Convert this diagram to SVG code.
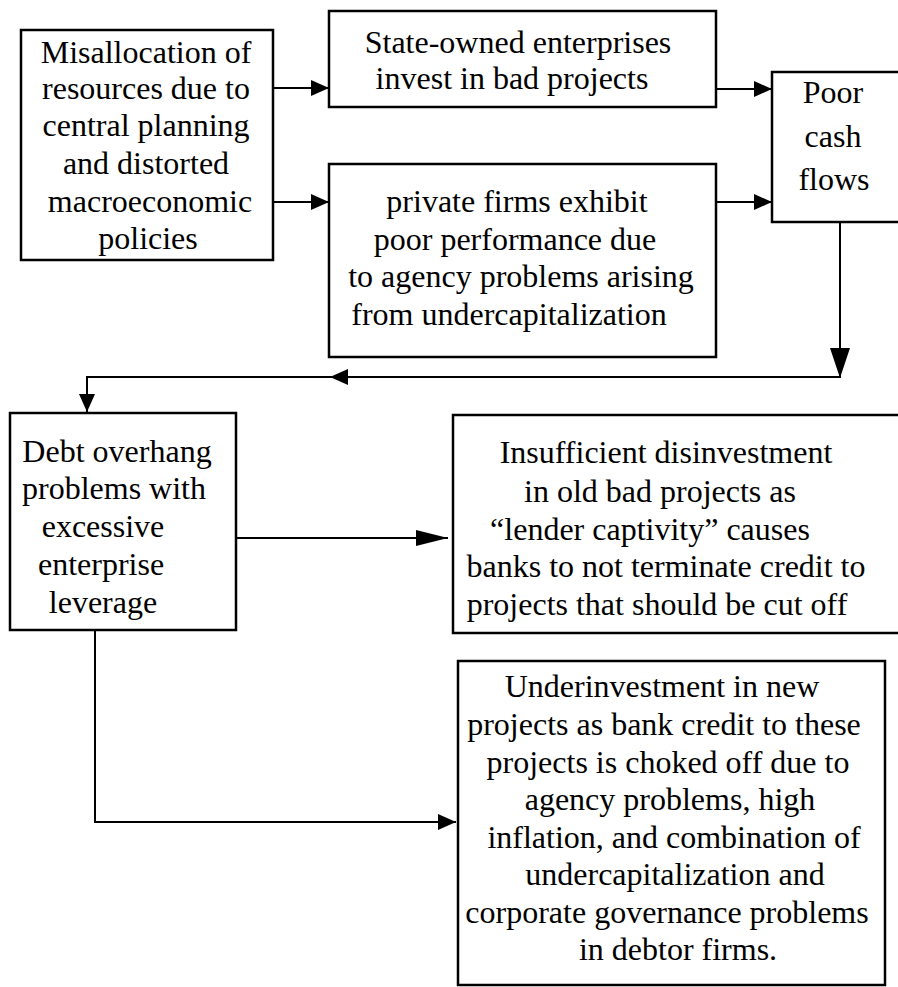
<svg xmlns="http://www.w3.org/2000/svg" width="898" height="987" viewBox="0 0 898 987">
<style>
.box{fill:#fff;stroke:#000;stroke-width:2.5}
.t{font-family:"Liberation Serif","Times New Roman",serif;font-size:32px;fill:#000;text-anchor:middle}
.c{fill:none;stroke:#000;stroke-width:2}
</style>
<defs>
<marker id="a" viewBox="0 0 18 16" refX="18" refY="8" markerWidth="18" markerHeight="16" markerUnits="userSpaceOnUse" orient="auto"><path d="M0,0 L18,8 L0,16 Z" fill="#000"/></marker>
<marker id="b" viewBox="0 0 30 20" refX="30" refY="10" markerWidth="30" markerHeight="20" markerUnits="userSpaceOnUse" orient="auto"><path d="M0,0 L30,10 L0,20 Z" fill="#000"/></marker>
<marker id="l" viewBox="0 0 32 16" refX="32" refY="8" markerWidth="32" markerHeight="16" markerUnits="userSpaceOnUse" orient="auto"><path d="M0,0 L32,8 L0,16 Z" fill="#000"/></marker>
</defs>
<rect width="898" height="987" fill="#fff"/>
<g id="connectors">
<path class="c" d="M273,88 L329,88" marker-end="url(#a)"/>
<path class="c" d="M273,202 L329,202" marker-end="url(#a)"/>
<path class="c" d="M716,89 L772,89" marker-end="url(#a)"/>
<path class="c" d="M716,202 L772,202" marker-end="url(#a)"/>
<path class="c" d="M840,222 L840,378" marker-end="url(#b)"/>
<path class="c" d="M840,377 L330,377" marker-end="url(#a)"/>
<path class="c" d="M330,377 L87,377 L87,412" marker-end="url(#a)"/>
<path class="c" d="M236,538 L448,538" marker-end="url(#l)"/>
<path class="c" d="M95,630 L95,822 L456,822" marker-end="url(#a)"/>
</g>
<g id="n1">
<rect class="box" x="21" y="30" width="252" height="230"/>
<text class="t" x="146" y="63">Misallocation of</text>
<text class="t" x="146" y="99">resources due to</text>
<text class="t" x="146" y="136">central planning</text>
<text class="t" x="146" y="174">and distorted</text>
<text class="t" x="150" y="212">macroeconomic</text>
<text class="t" x="148" y="249">policies</text>
</g>
<g id="n2">
<rect class="box" x="329" y="11" width="387" height="96"/>
<text class="t" x="518" y="53">State-owned enterprises</text>
<text class="t" x="512" y="89">invest in bad projects</text>
</g>
<g id="n3">
<rect class="box" x="329" y="164" width="387" height="193"/>
<text class="t" x="517" y="212">private firms exhibit</text>
<text class="t" x="515" y="250">poor performance due</text>
<text class="t" x="521" y="287">to agency problems arising</text>
<text class="t" x="509" y="325">from undercapitalization</text>
</g>
<g id="n4">
<rect class="box" x="772" y="72" width="140" height="150"/>
<text class="t" x="833" y="103">Poor</text>
<text class="t" x="833" y="147">cash</text>
<text class="t" x="834" y="190">flows</text>
</g>
<g id="n5">
<rect class="box" x="10" y="413" width="226" height="217"/>
<text class="t" x="117" y="462">Debt overhang</text>
<text class="t" x="114" y="499">problems with</text>
<text class="t" x="103" y="537">excessive</text>
<text class="t" x="101" y="575">enterprise</text>
<text class="t" x="103" y="613">leverage</text>
</g>
<g id="n6">
<rect class="box" x="453" y="415" width="460" height="218"/>
<text class="t" x="666" y="463">Insufficient disinvestment</text>
<text class="t" x="660" y="502">in old bad projects as</text>
<text class="t" x="650" y="540">“lender captivity” causes</text>
<text class="t" x="666" y="577">banks to not terminate credit to</text>
<text class="t" x="657" y="615">projects that should be cut off</text>
</g>
<g id="n7">
<rect class="box" x="458" y="661" width="427" height="324"/>
<text class="t" x="662" y="697">Underinvestment in new</text>
<text class="t" x="664" y="735">projects as bank credit to these</text>
<text class="t" x="668" y="773">projects is choked off due to</text>
<text class="t" x="670" y="810">agency problems, high</text>
<text class="t" x="674" y="848">inflation, and combination of</text>
<text class="t" x="675" y="885">undercapitalization and</text>
<text class="t" x="667" y="923">corporate governance problems</text>
<text class="t" x="678" y="960">in debtor firms.</text>
</g>
</svg>
